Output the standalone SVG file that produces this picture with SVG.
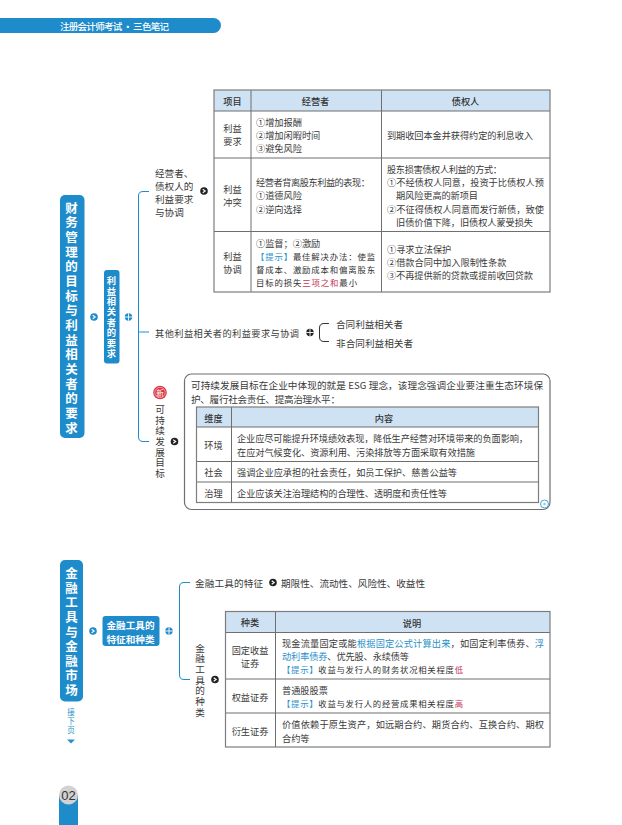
<svg xmlns="http://www.w3.org/2000/svg" width="622" height="825" viewBox="0 0 622 825">
<style>
text{font-family:"Noto Sans CJK SC","Liberation Sans",sans-serif;font-size:9.2px;fill:#3a3a3a;dominant-baseline:central}
.m{text-anchor:middle}
.b{font-size:9.600px}
.h{font-weight:500;fill:#333}
.tip{font-size:8.400px;fill:#333}
.bl{fill:#2a8fc9}
.rd{fill:#c8324f}
.w{fill:#fff;font-weight:700}
.t1{font-size:12.500px}
.t2{font-size:9.300px}
.t3{font-size:9.600px}
.hd{fill:#cfe2f3;stroke:none}
.grid{fill:none;stroke:#6f6f6f;stroke-width:1}
.outer{fill:none;stroke:#7d7d7d;stroke-width:1.2}
.conn{fill:none;stroke:#1e8bcb;stroke-width:1}
.conn2{fill:none;stroke:#333;stroke-width:1}
.blk{fill:#1e8bcb}
</style>
<defs>
<g id="arD"><circle r="3.8" fill="#222"/><path d="M-1.3-1.8L1.2 0L-1.3 1.8" fill="none" stroke="#fff" stroke-width="1.1"/></g>
<g id="arB"><circle r="3.8" fill="#1e8bcb"/><path d="M-1.3-1.8L1.2 0L-1.3 1.8" fill="none" stroke="#fff" stroke-width="1.1"/></g>
<g id="plD"><circle r="3.7" fill="#222"/><path d="M-3.7 0H3.7M0-3.7V3.7" stroke="#fff" stroke-width="0.9"/></g>
<g id="plB"><circle r="3.7" fill="#1e8bcb"/><path d="M-3.7 0H3.7M0-3.7V3.7" stroke="#fff" stroke-width="0.9"/></g>
</defs>
<rect width="622" height="825" fill="#fff"/>

<g id="header">
<path d="M0 18H213.500a7.500 7.500 0 0 1 0 15H0Z" fill="#1e8bcb"/>
<text x="60" y="25.500" textLength="109" style="fill:#fff;font-size:9.500px;font-weight:500">注册会计师考试 · 三色笔记</text>
</g>

<g id="connectors">
<path class="conn" d="M149 191.500H143Q138.500 191.500 138.500 196V437Q138.500 441.500 143 441.500H149M138.500 332Q138.500 332 143 332H149"/>
<path class="conn2" d="M329 323.500H324Q319.500 323.500 319.500 328V337Q319.500 341.500 324 341.500H329"/>
<path class="conn" d="M190 582.500H184Q179.500 582.500 179.500 587V675Q179.500 679.500 184 679.500H190"/>
</g>

<g id="node-title-1">
<rect class="blk" x="60" y="195" width="24.500" height="243" rx="5"/>
<text class="m w t1" x="71.500 71.500 71.500 71.500 71.500 71.500 71.500 71.500 71.500 71.500 71.500 71.500 71.500 71.500 71.500 71.500" y="207 221.700 236.300 251 265.700 280.300 295 309.700 324.300 339 353.700 368.300 383 397.700 412.300 427">财务管理的目标与利益相关者的要求</text>
</g>
<g id="node-sub-1">
<rect class="blk" x="104" y="270" width="15.500" height="93.500" rx="3"/>
<text class="m w t2" x="111.500 111.500 111.500 111.500 111.500 111.500 111.500 111.500" y="280 290.500 301 311.400 321.800 332.200 342.600 353">利益相关者的要求</text>
</g>
<use href="#arB" x="94" y="317"/>
<use href="#plB" x="128.500" y="317"/>

<g id="node-operators">
<text class="b" x="155" y="172.500">经营者、</text>
<text class="b" x="155" y="185.500">债权人的</text>
<text class="b" x="155" y="198.500">利益要求</text>
<text class="b" x="155" y="211.500">与协调</text>
<use href="#arD" x="204" y="191"/>
</g>

<g id="node-table-1">
<rect class="hd" x="214" y="90" width="336" height="21"/>
<path class="grid" d="M251 90V292M381.500 90V292M214 111H550M214 158H550M214 231.500H550"/>
<rect class="outer" x="214" y="90" width="336" height="202"/>
<text class="m h" x="232.500" y="100.500">项目</text>
<text class="m h" x="315.500" y="100.500">经营者</text>
<text class="m h" x="465.500" y="100.500">债权人</text>
<text class="m" x="232.500" y="127.500">利益</text>
<text class="m" x="232.500" y="141">要求</text>
<text x="256" y="122">①增加报酬</text>
<text x="256" y="135">②增加闲暇时间</text>
<text x="256" y="148">③避免风险</text>
<text x="387" y="135" textLength="146">到期收回本金并获得约定的利息收入</text>
<text class="m" x="232.500" y="189">利益</text>
<text class="m" x="232.500" y="202">冲突</text>
<text x="256" y="182" textLength="114">经营者背离股东利益的表现：</text>
<text x="256" y="195">①道德风险</text>
<text x="256" y="209">②逆向选择</text>
<text x="387" y="168.500" textLength="115">股东损害债权人利益的方式：</text>
<text x="387" y="181.500" textLength="157">①不经债权人同意，投资于比债权人预</text>
<text x="396" y="195" textLength="82">期风险更高的新项目</text>
<text x="387" y="209" textLength="157">②不征得债权人同意而发行新债，致使</text>
<text x="396" y="222" textLength="137">旧债价值下降，旧债权人蒙受损失</text>
<text class="m" x="232.500" y="256">利益</text>
<text class="m" x="232.500" y="269">协调</text>
<text x="256" y="243">①监督；②激励</text>
<text class="tip" x="256" y="256" textLength="119"><tspan class="tip bl">【提示】</tspan>最佳解决办法：使监</text>
<text class="tip" x="256" y="269" textLength="119">督成本、激励成本和偏离股东</text>
<text class="tip" x="256" y="282" textLength="101">目标的损失<tspan class="tip rd">三项之和</tspan>最小</text>
<text x="387" y="249">①寻求立法保护</text>
<text x="387" y="262">②借款合同中加入限制性条款</text>
<text x="387" y="275" textLength="146">③不再提供新的贷款或提前收回贷款</text>
</g>

<g id="node-others">
<text x="155" y="332.500" textLength="144">其他利益相关者的利益要求与协调</text>
<use href="#plD" x="310" y="332.500"/>
<text class="b" x="336" y="324" textLength="67">合同利益相关者</text>
<text class="b" x="336" y="342.500" textLength="77">非合同利益相关者</text>
</g>

<g id="node-sustain">
<circle cx="160" cy="392.500" r="6.800" fill="#d9333f"/>
<circle cx="160" cy="392.500" r="5.200" fill="none" stroke="#fff" stroke-width="0.5"/>
<text class="m" x="160" y="392.500" style="font-size:7.500px;fill:#fff">新</text>
<text class="m b" x="160 160 160 160 160 160 160" y="409 419.700 430.400 441 451.700 462.400 473">可持续发展目标</text>
<use href="#arD" x="174.500" y="441.500"/>
</g>

<g id="node-esg">
<rect x="184.500" y="374" width="365.500" height="135.500" rx="7" fill="none" stroke="#6f6f6f" stroke-width="1.200"/>
<text class="b" x="191" y="385" textLength="352">可持续发展目标在企业中体现的就是 ESG 理念，该理念强调企业要注重生态环境保</text>
<text class="b" x="191" y="398.500" textLength="149">护、履行社会责任、提高治理水平：</text>
<rect class="hd" x="196.500" y="407" width="342" height="20"/>
<path class="grid" d="M231.500 407V502.500M196.500 427H538.500M196.500 461.500H538.500M196.500 482H538.500"/>
<rect class="outer" x="196.500" y="407" width="342" height="95.500"/>
<text class="m h" x="213.500" y="417.500">维度</text>
<text class="m h" x="384" y="417.500">内容</text>
<text class="m" x="213.500" y="444.500">环境</text>
<text x="237" y="437.500" textLength="291">企业应尽可能提升环境绩效表现，降低生产经营对环境带来的负面影响，</text>
<text x="237" y="452" textLength="238">在应对气候变化、资源利用、污染排放等方面采取有效措施</text>
<text class="m" x="213.500" y="471.500">社会</text>
<text x="237" y="471.500" textLength="220">强调企业应承担的社会责任，如员工保护、慈善公益等</text>
<text class="m" x="213.500" y="492.500">治理</text>
<text x="237" y="492.500" textLength="210">企业应该关注治理结构的合理性、透明度和责任性等</text>
<circle cx="544.500" cy="504" r="4" fill="#fff" stroke="#4ea6d8" stroke-width="1"/>
<circle cx="544.500" cy="504" r="1.200" fill="#8cc5e6"/>
</g>

<g id="node-title-2">
<rect class="blk" x="60" y="560" width="23" height="141.500" rx="5"/>
<text class="m w t1" x="71.500 71.500 71.500 71.500 71.500 71.500 71.500 71.500 71.500" y="572.700 587.300 601.800 616.400 631 645.500 660 674.600 689">金融工具与金融市场</text>
</g>
<g id="node-next">
<text class="m bl" x="71 71 71" y="711.500 720.200 729" style="font-size:7.500px">接下页</text>
<path d="M67 739.500H75L71 743.500Z" fill="#2a8fc9"/>
</g>
<use href="#arB" x="93" y="631"/>
<g id="node-sub-2">
<rect class="blk" x="102.500" y="616" width="57" height="30" rx="3"/>
<text class="m w t3" x="130.500" y="624.500">金融工具的</text>
<text class="m w t3" x="130.500" y="638.500">特征和种类</text>
</g>
<use href="#plB" x="169" y="631"/>

<g id="node-features">
<text x="195" y="582.500" textLength="68" class="b">金融工具的特征</text>
<use href="#arD" x="273" y="582.500"/>
<text x="281" y="582.500" textLength="144" class="b">期限性、流动性、风险性、收益性</text>
</g>

<g id="node-types">
<text class="m b" x="200 200 200 200 200 200 200" y="647.500 658.200 668.900 679.600 690.300 701 711.700">金融工具的种类</text>
<use href="#arD" x="215" y="679.500"/>
</g>

<g id="node-table-2">
<rect class="hd" x="225.500" y="611.500" width="324.500" height="21"/>
<path class="grid" d="M275.500 611.500V747M225.500 632.500H550M225.500 679H550M225.500 713H550"/>
<rect class="outer" x="225.500" y="611.500" width="324.500" height="135.500"/>
<text class="m h" x="250" y="622">种类</text>
<text class="m h" x="412" y="622.500">说明</text>
<text class="m" x="250" y="650">固定收益</text>
<text class="m" x="250" y="663">证券</text>
<text x="282" y="642.500" textLength="262">现金流量固定或能<tspan class="bl">根据固定公式计算出来</tspan>，如固定利率债券、<tspan class="bl">浮</tspan></text>
<text x="282" y="655.500" textLength="127"><tspan class="bl">动利率债券</tspan>、优先股、永续债等</text>
<text class="tip" x="282" y="668.500" textLength="181"><tspan class="tip bl">【提示】</tspan>收益与发行人的财务状况相关程度<tspan class="tip rd">低</tspan></text>
<text class="m" x="250" y="696.500">权益证券</text>
<text x="282" y="689.500">普通股股票</text>
<text class="tip" x="282" y="703" textLength="181"><tspan class="tip bl">【提示】</tspan>收益与发行人的经营成果相关程度<tspan class="tip rd">高</tspan></text>
<text class="m" x="250" y="730.500">衍生证券</text>
<text x="282" y="723.500" textLength="262">价值依赖于原生资产，如远期合约、期货合约、互换合约、期权</text>
<text x="282" y="738">合约等</text>
</g>

<g id="page-number">
<rect x="59" y="795" width="19" height="30" fill="#1e8bcb"/>
<circle cx="68.500" cy="795" r="9.500" fill="#d2d2d2"/>
<text class="m" x="68.500" y="795" style="font-family:'Liberation Sans',sans-serif;font-size:13px;fill:#333">02</text>
</g>
</svg>
